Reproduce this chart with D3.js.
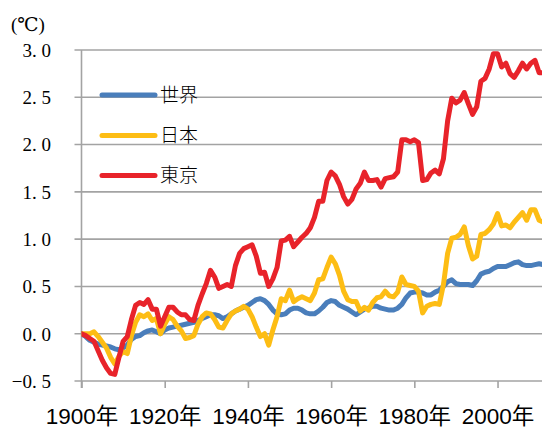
<!DOCTYPE html>
<html>
<head>
<meta charset="utf-8">
<script src="https://cdn.jsdelivr.net/npm/d3@7"></script>
<style>
  html, body { margin: 0; padding: 0; background: #fff; }
  svg { display: block; }
</style>
</head>
<body>
<script>
// 年（1900〜2011）
const years = d3.range(1900, 2012);

// 世界の平均気温偏差
const worldValues = [
  0.00, -0.03, -0.07, -0.09, -0.11, -0.12, -0.13, -0.14, -0.16, -0.17,
  -0.15, -0.12, -0.06, -0.03, -0.02, 0.01, 0.03, 0.04, 0.02, 0.00,
  0.04, 0.06, 0.07, 0.08, 0.09, 0.10, 0.11, 0.12, 0.14, 0.16,
  0.18, 0.20, 0.20, 0.19, 0.16, 0.18, 0.21, 0.24, 0.26, 0.28,
  0.30, 0.33, 0.36, 0.37, 0.35, 0.31, 0.25, 0.21, 0.20, 0.21,
  0.25, 0.27, 0.27, 0.25, 0.22, 0.21, 0.21, 0.24, 0.28, 0.33,
  0.35, 0.34, 0.30, 0.28, 0.26, 0.23, 0.20, 0.23, 0.26, 0.27,
  0.29, 0.29, 0.27, 0.26, 0.25, 0.25, 0.27, 0.31, 0.38, 0.43,
  0.44, 0.44, 0.43, 0.41, 0.41, 0.44, 0.46, 0.50, 0.55, 0.57,
  0.53, 0.52, 0.52, 0.52, 0.51, 0.56, 0.63, 0.65, 0.66, 0.69,
  0.71, 0.71, 0.71, 0.73, 0.75, 0.76, 0.73, 0.72, 0.72, 0.73,
  0.74, 0.73
];

// 日本の平均気温偏差
const japanValues = [
  0.00, 0.00, 0.00, 0.02, -0.03, -0.09, -0.15, -0.25, -0.32, -0.24,
  -0.19, -0.21, -0.02, 0.12, 0.20, 0.18, 0.21, 0.14, 0.16, 0.00,
  0.10, 0.18, 0.15, 0.08, 0.03, -0.05, -0.04, -0.02, 0.10, 0.18,
  0.22, 0.21, 0.15, 0.07, 0.06, 0.14, 0.21, 0.24, 0.26, 0.29,
  0.26, 0.18, 0.07, -0.03, 0.00, -0.12, 0.04, 0.18, 0.37, 0.35,
  0.46, 0.34, 0.37, 0.39, 0.37, 0.35, 0.43, 0.57, 0.58, 0.70,
  0.81, 0.74, 0.62, 0.45, 0.36, 0.34, 0.34, 0.24, 0.28, 0.25,
  0.33, 0.38, 0.39, 0.45, 0.40, 0.39, 0.44, 0.60, 0.52, 0.51,
  0.50, 0.45, 0.22, 0.29, 0.31, 0.32, 0.31, 0.52, 0.85, 1.01,
  1.02, 1.05, 1.13, 0.93, 0.79, 0.82, 1.05, 1.06, 1.10, 1.16,
  1.27, 1.14, 1.15, 1.12, 1.18, 1.23, 1.28, 1.20, 1.31, 1.31,
  1.20, 1.18
];

// 東京の平均気温偏差
const tokyoValues = [
  0.00, -0.02, -0.05, -0.08, -0.18, -0.28, -0.36, -0.42, -0.43, -0.25,
  -0.08, -0.03, 0.15, 0.30, 0.33, 0.31, 0.36, 0.26, 0.26, 0.08,
  0.18, 0.28, 0.28, 0.23, 0.20, 0.20, 0.15, 0.14, 0.30, 0.42,
  0.53, 0.67, 0.60, 0.48, 0.50, 0.52, 0.50, 0.72, 0.85, 0.90,
  0.92, 0.94, 0.82, 0.64, 0.65, 0.50, 0.58, 0.70, 0.98, 0.99,
  1.03, 0.92, 0.97, 1.02, 1.06, 1.12, 1.23, 1.40, 1.40, 1.62,
  1.71, 1.67, 1.58, 1.45, 1.37, 1.42, 1.53, 1.59, 1.71, 1.62,
  1.62, 1.63, 1.55, 1.64, 1.65, 1.66, 1.71, 2.05, 2.05, 2.03,
  2.05, 2.02, 1.62, 1.63, 1.70, 1.73, 1.69, 1.85, 2.25, 2.49,
  2.44, 2.47, 2.55, 2.43, 2.32, 2.40, 2.67, 2.70, 2.80, 2.96,
  2.96, 2.82, 2.86, 2.75, 2.71, 2.78, 2.86, 2.80, 2.86, 2.89,
  2.76, 2.76
];

const seriesNames = ['世界', '日本', '東京'];
const seriesColors = ['#4a7ebb', '#fdbd14', '#e8232a'];
const yTicks = [-0.5, 0, 0.5, 1.0, 1.5, 2.0, 2.5, 3.0];
const xTicks = [1900, 1920, 1940, 1960, 1980, 2000];

const width = 542;
const height = 428;
const margin = { top: 50, right: 0, bottom: 47, left: 81.5 };

const svg = d3.select('body').append('svg')
  .attr('width', width)
  .attr('height', height);

const x = d3.scaleLinear().domain([1900, 2011]).range([margin.left, 543.3]);
const y = d3.scaleLinear().domain([-0.5, 3.0]).range([381, 50]);

// 目盛り線（横）
svg.append('g')
  .selectAll('line')
  .data(yTicks)
  .join('line')
  .attr('x1', margin.left - 7)
  .attr('x2', width)
  .attr('y1', d => y(d))
  .attr('y2', d => y(d))
  .attr('stroke', '#a3a3a3')
  .attr('stroke-width', 1.6);

// 縦軸
svg.append('line')
  .attr('x1', margin.left).attr('x2', margin.left)
  .attr('y1', y(3.0)).attr('y2', y(-0.5) + 7)
  .attr('stroke', '#a3a3a3')
  .attr('stroke-width', 1.6);

// 横軸の目盛り
const xAxis = d3.axisBottom(x)
  .tickValues(xTicks)
  .tickSize(7)
  .tickFormat(d => d + '年');

const gx = svg.append('g')
  .attr('transform', `translate(0, ${y(-0.5)})`)
  .call(xAxis);
gx.select('.domain').remove();
gx.selectAll('.tick line').attr('stroke', '#a3a3a3').attr('stroke-width', 1.6);
gx.selectAll('.tick text')
  .attr('y', 0)
  .attr('dy', '0')
  .attr('transform', 'translate(0, 43)')
  .attr('fill', '#000')
  .style('font-family', '"Liberation Sans", Arial, "Noto Sans CJK JP", sans-serif')
  .style('font-size', '22.5px');

// 縦軸ラベル
svg.append('g')
  .selectAll('text')
  .data(yTicks)
  .join('text')
  .attr('x', 51)
  .attr('y', d => y(d))
  .attr('dy', '0.36em')
  .attr('text-anchor', 'end')
  .style('font-family', '"Liberation Serif", "DejaVu Serif", serif')
  .style('font-size', '19px')
  .style('white-space', 'pre')
  .text(d => (d < 0 ? '\u2212' : '') + d3.format('.1f')(Math.abs(d)).replace('.', '. '));

svg.append('text')
  .attr('x', 11)
  .attr('y', 31)
  .style('font-family', '"Liberation Serif", "DejaVu Serif", "Noto Sans CJK JP", serif')
  .style('font-size', '19px')
  .text('(℃)');

// 折れ線
const allValues = [worldValues, japanValues, tokyoValues];
const line = d3.line()
  .x((d, i) => x(years[i]))
  .y(d => y(d));

svg.append('defs').append('clipPath').attr('id', 'plot')
  .append('rect')
  .attr('x', margin.left).attr('y', 0)
  .attr('width', width - margin.left).attr('height', height);

const lines = svg.append('g').attr('clip-path', 'url(#plot)');
allValues.forEach((vals, k) => {
  lines.append('path')
    .datum(vals)
    .attr('d', line)
    .attr('fill', 'none')
    .attr('stroke', seriesColors[k])
    .attr('stroke-width', 5)
    .attr('stroke-linejoin', 'round')
    .attr('stroke-linecap', 'round');
});

// 凡例
const legendY = [95, 135.5, 175.5];
const legend = svg.append('g');
seriesNames.forEach((name, k) => {
  legend.append('line')
    .attr('x1', 102).attr('x2', 155)
    .attr('y1', legendY[k]).attr('y2', legendY[k])
    .attr('stroke', seriesColors[k])
    .attr('stroke-width', 5)
    .attr('stroke-linecap', 'round');
  legend.append('text')
    .attr('x', 160)
    .attr('y', legendY[k])
    .attr('dy', '0.36em')
    .style('font-family', '"Noto Sans CJK JP", sans-serif')
    .style('font-weight', 300)
    .style('font-size', '19px')
    .text(name);
});
</script>
</body>
</html>
